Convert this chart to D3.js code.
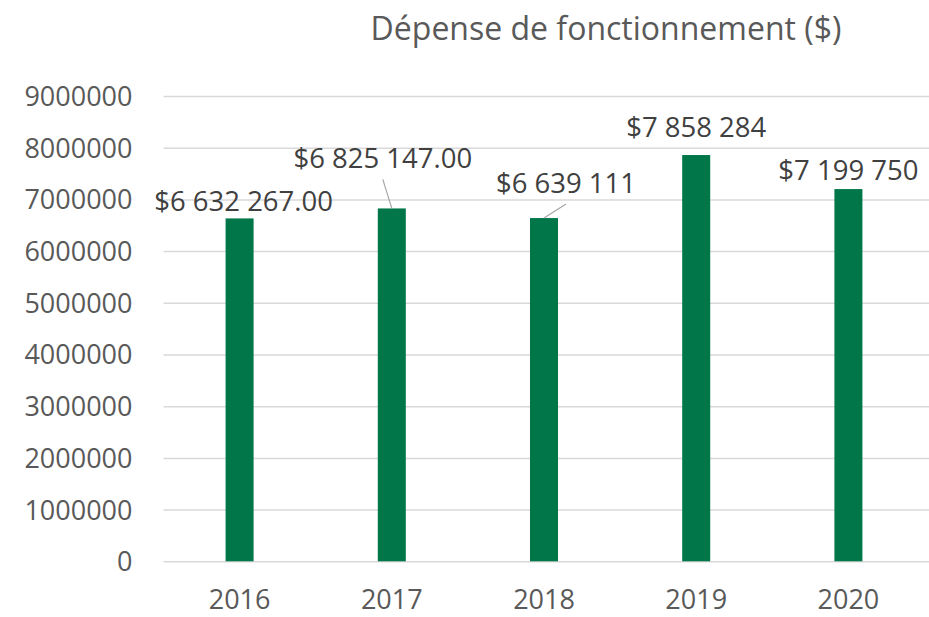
<!DOCTYPE html>
<html lang="fr">
<head>
<meta charset="UTF-8">
<title>Dépense de fonctionnement ($)</title>
<script src="https://d3js.org/d3.v7.min.js"></script>
<style>
    body { margin: 0; background: #fff; }
    svg { display: block; font-family: "Open Sans", sans-serif; }
    .tick text { fill: #595959; font-size: 27px; font-family: "Open Sans", sans-serif; }
    .grid line { stroke: #d9d9d9; stroke-width: 1.5; }
    .label { fill: #404040; font-size: 27.5px; text-anchor: middle; }
    .leader { stroke: #a6a6a6; stroke-width: 1.2; }
</style>
</head>
<body>
<div id="chart"></div>
<script>
    // data
    const years = ["2016", "2017", "2018", "2019", "2020"];
    const spending = [6632267, 6825147, 6639111, 7858284, 7199750];
    const valueLabels = ["$6 632 267.00", "$6 825 147.00", "$6 639 111", "$7 858 284", "$7 199 750"];
    const yTicks = [0, 1000000, 2000000, 3000000, 4000000, 5000000, 6000000, 7000000, 8000000, 9000000];

    // manual label placement (dx, dy from bar top centre), leader = draw a connector
    const labelOffsets = [
        { dx: 4, dy: -7, leader: false },
        { dx: -9, dy: -40, leader: true },
        { dx: 22, dy: -25, leader: true },
        { dx: 0, dy: -18, leader: false },
        { dx: 0, dy: -9, leader: false }
    ];

    const width = 929, height = 617;
    const margin = { top: 96, right: 4.5, bottom: 55.7, left: 163.5 };

    const svg = d3.select("#chart").append("svg")
        .attr("width", width)
        .attr("height", height);

    const x = d3.scaleBand()
        .domain(years)
        .range([margin.left, width - margin.right])
        .paddingInner(0.816)
        .paddingOuter(0.408);

    const y = d3.scaleLinear()
        .domain([0, 9000000])
        .range([height - margin.bottom, margin.top]);

    // gridlines + y labels
    const yAxis = svg.append("g")
        .attr("class", "grid")
        .attr("transform", `translate(${margin.left},0)`)
        .call(d3.axisLeft(y).tickValues(yTicks).tickFormat(d3.format("d"))
            .tickSize(-(width - margin.left)).tickPadding(31));
    yAxis.attr("font-family", null).attr("font-size", null);
    yAxis.select(".domain").remove();
    yAxis.selectAll(".tick text").attr("dy", "0.35em");

    // bars
    svg.selectAll("rect.bar")
        .data(spending)
        .join("rect")
        .attr("class", "bar")
        .attr("x", (d, i) => x(years[i]))
        .attr("width", x.bandwidth())
        .attr("y", d => y(d))
        .attr("height", d => y(0) - y(d))
        .attr("fill", "#017649");

    // x labels
    const xAxis = svg.append("g")
        .attr("transform", `translate(0,${y(0)})`)
        .call(d3.axisBottom(x).tickSize(0).tickPadding(29));
    xAxis.attr("font-family", null).attr("font-size", null);
    xAxis.select(".domain").remove();

    // leader lines
    spending.forEach((d, i) => {
        const o = labelOffsets[i];
        if (!o.leader) return;
        const bx = x(years[i]) + x.bandwidth() / 2;
        const by = y(d);
        const lx = bx + o.dx;
        const ly = by + o.dy + 11;
        svg.append("line")
            .attr("class", "leader")
            .attr("x1", lx).attr("y1", ly)
            .attr("x2", bx).attr("y2", by);
    });

    // data labels
    svg.selectAll("text.label")
        .data(spending)
        .join("text")
        .attr("class", "label")
        .attr("x", (d, i) => x(years[i]) + x.bandwidth() / 2 + labelOffsets[i].dx)
        .attr("y", (d, i) => y(d) + labelOffsets[i].dy)
        .text((d, i) => valueLabels[i]);

    // title
    svg.append("text")
        .attr("x", 606)
        .attr("y", 40)
        .attr("text-anchor", "middle")
        .attr("fill", "#595959")
        .style("font-size", "32px")
        .text("Dépense de fonctionnement ($)");
</script>
</body>
</html>
